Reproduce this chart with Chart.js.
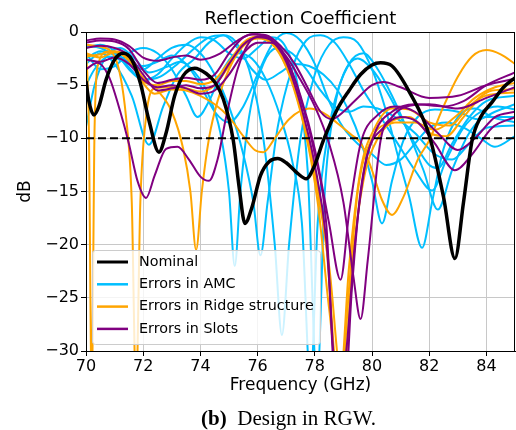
<!DOCTYPE html>
<html><head><meta charset="utf-8">
<script src="https://cdn.jsdelivr.net/npm/chart.js@4/dist/chart.umd.min.js"></script>
<style>
html,body{margin:0;padding:0;background:#fff;}
#wrap{position:relative;width:516px;height:430px;overflow:hidden;}
#caption{position:absolute;left:0;width:577px;top:406px;text-align:center;font-family:"Liberation Serif","Times New Roman",serif;font-size:21px;line-height:24px;color:#000;white-space:nowrap;}
</style></head>
<body>
<div id="wrap"><canvas id="c" width="516" height="430"></canvas><div id="caption"><b>(b)</b>&nbsp; Design in RGW.</div></div>
<script>
// ---- tick labels ----
const xTicks = [70, 72, 74, 76, 78, 80, 82, 84];
const yTicks = [0, -5, -10, -15, -20, -25, -30];
const threshold = -10;

// ---- Nominal ----
const nominalFreq = [70.0,70.1,70.28,70.45,70.7,71.0,71.3,71.6,71.9,72.2,72.55,72.8,73.1,73.4,73.8,74.2,74.5,74.8,75.15,75.35,75.56,75.8,76.1,76.4,76.7,77.0,77.4,77.7,78.0,78.3,78.8,79.2,79.6,80.0,80.3,80.7,81.3,82.0,82.5,82.9,83.2,83.5,83.8,84.2,84.6,85.0];
const nominalDb   = [-4.6,-6.5,-7.8,-7.0,-4.5,-2.6,-2.0,-2.6,-4.8,-8.3,-11.3,-9.5,-6.0,-4.1,-3.4,-3.9,-4.7,-6.3,-10.2,-14.5,-18.0,-16.5,-13.5,-12.2,-11.9,-12.3,-13.3,-13.8,-12.5,-10.2,-7.2,-5.5,-4.0,-3.1,-2.9,-3.2,-5.6,-9.7,-15.5,-21.3,-16.0,-10.2,-8.0,-6.6,-5.2,-4.3];

// ---- Errors in AMC ----
const amc1Freq = [70,70.3,70.7,71.2,71.7,72.2,72.8,73.3,73.8,74.3,74.7,75.0,75.2,75.4,75.7,76.2,76.7,77.2,77.7,78.2,78.7,79.2,79.7,80.2,80.8,81.5,82.2,82.8,83.4,84,85];
const amc1Db   = [-8.9,-5,-2.3,-1.5,-2.5,-3.8,-3.3,-2.8,-3.8,-6,-9.5,-15,-22,-15,-8,-3,-1.5,-2,-3.5,-5.5,-7,-7.5,-7,-7.2,-8,-9.5,-11.5,-12,-10.5,-9,-8.8];
const amc2Freq = [70,70.5,71,71.6,72.2,72.7,73.2,73.8,74.3,74.8,75.2,75.7,76.2,76.6,76.85,77.1,77.5,78,78.5,79,79.5,80,80.5,80.9,81.3,81.75,82.1,82.5,83,83.6,84.2,85];
const amc2Db   = [-3,-2,-3,-6,-10.6,-7,-4,-2.5,-1,-0.3,-0.8,-3.5,-10,-20,-28.5,-20,-10,-4,-1.2,-0.5,-1,-3.5,-7.5,-11.6,-15.5,-20.3,-16,-11,-8,-7.2,-8,-8.5];
const amc3Freq = [70,70.5,71,71.5,72,72.5,73,73.5,73.9,74.3,74.8,75.3,75.8,76.3,76.8,77.2,77.55,77.85,78.1,78.5,79,79.5,80,80.5,81,81.5,82,82.3,82.8,83.4,84,85];
const amc3Db   = [-2,-3.5,-3.2,-2,-1.5,-2,-3.5,-6,-8,-6.5,-3.5,-2,-2.5,-4.5,-8,-12,-18,-33,-18,-9,-4,-2.5,-3.5,-5.5,-8,-10.5,-12.5,-12.8,-10.5,-8,-6.5,-6];
const amc4Freq = [70,70.5,71,71.5,72,72.5,73,73.5,74,74.5,75,75.5,76,76.5,77,77.4,77.75,78.08,78.35,78.7,79.2,79.7,80.2,80.7,81.2,81.8,82.3,82.8,83.4,84,85];
const amc4Db   = [-1.5,-1.2,-1.8,-3.5,-4.5,-4,-2.5,-1.2,-0.5,-0.8,-2,-2.5,-1.5,-0.5,-1.5,-5,-13,-33,-15,-7,-3,-2,-3.5,-6,-9,-13,-16.7,-13,-9.5,-8,-8];
const amc5Freq = [70,70.3,70.8,71.3,72,72.6,73.2,73.8,74.3,74.8,75.3,75.8,76.3,76.8,77.3,77.8,78.3,78.8,79.2,79.6,80,80.35,80.7,81.1,81.6,82.2,83,83.7,84.3,85];
const amc5Db   = [-5,-3.5,-2.3,-2.8,-4.5,-4.2,-3,-1.5,-0.5,-0.3,-1.5,-3.5,-4.5,-3.8,-3,-3.2,-4,-5.5,-7.5,-10.2,-14,-18,-14,-10.2,-8,-7.3,-7.5,-8.2,-7.5,-6.8];
const amc6Freq = [70,70.5,71,71.5,72,72.5,73,73.5,74,74.5,75,75.5,75.85,76.1,76.35,76.7,77.2,77.7,78.2,78.7,79.2,79.7,80.3,80.9,81.5,82.1,82.6,83.2,83.8,84.4,85];
const amc6Db   = [-2.5,-1.8,-2,-2.8,-3.5,-2.5,-1.5,-1.2,-2,-4,-7,-11.5,-16,-21,-16,-9,-3.5,-0.8,-0.3,-1,-3,-5.5,-8,-10.5,-13,-14.9,-12,-9,-7.5,-7,-7.3];
const amc7Freq = [70,70.5,71,71.5,72,72.5,73,73.5,74,74.5,75,75.5,76,76.5,77,77.5,78,78.5,79,79.5,80,80.5,81,81.5,82,82.6,83.2,83.8,84.3,85];
const amc7Db   = [-1.3,-1.5,-2.2,-3,-3.2,-2.8,-2.2,-3,-5,-7.5,-8.5,-7,-4,-1.2,-0.1,-0.8,-3,-6.5,-9,-10.5,-11.5,-12.5,-12,-10.5,-9,-8.5,-9,-10,-10.8,-9.8];

// ---- Errors in Ridge structure ----
const ridge1Freq = [70,70.1,70.2,70.3,70.45,70.8,71.2,71.6,72,72.5,73,73.5,74,74.5,75,75.5,76,76.5,77,77.5,78,78.4,78.85,79.2,79.6,80.1,80.7,81.3,82,82.7,83.4,84.2,85];
const ridge1Db   = [-1.5,-9,-34,-9,-2.8,-1.8,-2,-3,-4.6,-5,-4.6,-4.6,-4.9,-4.5,-2.8,-1,-0.4,-1,-3.2,-7.2,-13,-20,-34,-22,-13,-9,-7.2,-7.3,-8.5,-8.8,-7,-5.5,-5.4];
const ridge2Freq = [70,70.5,71,71.4,71.6,71.75,71.9,72.1,72.4,73,73.5,74,74.5,75,75.5,76.1,76.6,77.1,77.6,78.1,78.5,78.9,79.2,79.5,80,80.6,81.3,82,82.6,83.2,83.8,84.4,85];
const ridge2Db   = [-1.2,-1.4,-2.3,-8,-16,-34,-16,-8,-5.3,-5.2,-5.3,-5.6,-5,-3.2,-1.3,-0.5,-1.3,-3.8,-8.5,-16,-26,-34,-24,-15,-10,-8.5,-8,-9.5,-9.8,-8,-6.2,-5.8,-5.7];
const ridge3Freq = [70,70.5,71,71.5,72,72.5,73,73.4,73.65,73.85,74.05,74.3,74.6,75,75.5,76,76.5,77,77.5,78,78.5,79,79.3,79.7,80.2,80.8,81.5,82.2,82.9,83.6,84.3,85];
const ridge3Db   = [-2,-2.4,-1.9,-2.5,-4.3,-5.5,-7.5,-11,-15,-20.5,-15,-10,-6.5,-3.5,-1.3,-0.6,-1.1,-3.3,-7.5,-13.5,-22,-34,-22,-14,-10,-8.5,-8.5,-9.2,-8,-6.2,-5.2,-4.8];
const ridge4Freq = [70,70.5,71,71.5,72,72.4,73,73.5,74,74.5,75,75.5,75.9,76.2,76.6,77.1,77.8,78.3,78.8,79.3,79.6,80,80.35,80.7,81.1,81.6,82,82.5,83,83.5,84,84.5,85];
const ridge4Db   = [-2.3,-2.1,-1.8,-2.4,-4.8,-5.8,-5.4,-5.5,-6,-6.8,-8,-9.8,-11.1,-11.3,-10,-8.2,-7.2,-7.6,-8.6,-9.7,-10.4,-13,-15.8,-17.2,-15.5,-12,-10.2,-7,-4.2,-2.3,-1.7,-2.1,-3];

// ---- Errors in Slots ----
const slots1Freq = [70,70.4,70.8,71.2,71.5,71.8,72.1,72.4,72.8,73.2,73.6,74,74.3,74.6,74.9,75.3,75.7,76.1,76.5,77,77.5,78,78.4,78.8,79.1,79.4,79.8,80.4,81,81.6,82.2,82.9,83.5,84.2,85];
const slots1Db   = [-3.5,-2.9,-4.2,-7.5,-10.5,-14,-15.6,-13.5,-11,-10.8,-12,-13.6,-14,-12,-8,-3.5,-1,-0.4,-0.8,-2.8,-6.8,-12.5,-19.5,-34,-30,-20,-12,-9,-8,-8.5,-10.5,-13,-11.5,-9,-8];
const slots2Freq = [70,70.5,71,71.5,72,72.5,73,73.5,74,74.5,75,75.5,75.9,76.4,77,77.5,78,78.4,78.75,79.05,79.3,79.6,80.1,80.7,81.5,82.5,83.2,84,85];
const slots2Db   = [-1,-0.8,-0.9,-1.6,-3.6,-4.8,-4.5,-4.3,-4.5,-4,-2,-0.5,-0.2,-0.6,-2.5,-6.2,-11.5,-18,-34,-34,-24,-15,-9.5,-7.5,-6.8,-7,-6.5,-5,-3.8];
const slots3Freq = [70,70.5,71,71.5,72,72.5,73,73.5,74,74.5,75,75.5,76,76.5,77,77.5,78,78.5,78.9,79.2,79.6,80.2,80.8,81.5,82.3,83,83.6,84.3,85];
const slots3Db   = [-1.5,-1.3,-1.5,-2.2,-4,-5.5,-5.3,-5,-5.3,-5,-3,-1.2,-0.5,-0.8,-2.5,-6,-11,-18,-23.3,-17,-10.5,-7.8,-7,-7.5,-9.5,-11.1,-10,-8,-7.5];
const slots4Freq = [70,70.5,71,71.5,72,72.5,73,73.5,74,74.5,75,75.5,76,76.5,77,77.5,78,78.5,79,79.35,79.6,79.85,80.3,80.7,81.2,82,83,84,85];
const slots4Db   = [-2.6,-2.8,-2.4,-3,-4.5,-5.2,-5,-5.3,-5.8,-5.5,-4,-2,-1,-1,-2.3,-4.5,-7,-10.5,-16,-23,-27,-21.5,-10.2,-8,-7,-6.8,-7.2,-6.2,-5.2];
const slots5Freq = [70,70.5,71,71.5,72,72.5,73,73.5,74,74.7,75.3,75.8,76.3,76.8,77.3,77.8,78.2,78.6,79,79.5,80,80.4,81,82,83,84,85];
const slots5Db   = [-0.8,-0.6,-0.7,-1.3,-2.4,-2.7,-2.4,-2.2,-2.6,-2,-0.8,-0.2,-0.3,-1.3,-3,-5.5,-7.5,-8.2,-7.5,-6.2,-5,-4.7,-5.2,-6.2,-6,-5,-4.4];

const BLACK = '#000000', AMC = '#00bfff', RIDGE = '#ffa500', SLOTS = '#800080';
const FONT = "'DejaVu Sans', sans-serif";

function pts(f, d) { return f.map((x, i) => ({ x: x, y: d[i] })); }
function line(label, f, d, color, w) {
  return { label: label, data: pts(f, d), borderColor: color, backgroundColor: color, borderWidth: w, pointRadius: 0, fill: false, cubicInterpolationMode: 'monotone' };
}

const datasets = [
  line('Nominal', nominalFreq, nominalDb, BLACK, 3.5),
  { label: '-10 dB', data: [{ x: 70, y: threshold }, { x: 85, y: threshold }], borderColor: BLACK, borderWidth: 2, borderDash: [8, 4], pointRadius: 0, fill: false },
  line('Errors in Slots', slots1Freq, slots1Db, SLOTS, 2),
  line('Errors in Slots', slots2Freq, slots2Db, SLOTS, 2),
  line('Errors in Slots', slots3Freq, slots3Db, SLOTS, 2),
  line('Errors in Slots', slots4Freq, slots4Db, SLOTS, 2),
  line('Errors in Slots', slots5Freq, slots5Db, SLOTS, 2),
  line('Errors in Ridge structure', ridge1Freq, ridge1Db, RIDGE, 2),
  line('Errors in Ridge structure', ridge2Freq, ridge2Db, RIDGE, 2),
  line('Errors in Ridge structure', ridge3Freq, ridge3Db, RIDGE, 2),
  line('Errors in Ridge structure', ridge4Freq, ridge4Db, RIDGE, 2),
  line('Errors in AMC', amc1Freq, amc1Db, AMC, 2),
  line('Errors in AMC', amc2Freq, amc2Db, AMC, 2),
  line('Errors in AMC', amc3Freq, amc3Db, AMC, 2),
  line('Errors in AMC', amc4Freq, amc4Db, AMC, 2),
  line('Errors in AMC', amc5Freq, amc5Db, AMC, 2),
  line('Errors in AMC', amc6Freq, amc6Db, AMC, 2),
  line('Errors in AMC', amc7Freq, amc7Db, AMC, 2)
];

const legendItems = [
  { text: 'Nominal', color: BLACK, w: 3 },
  { text: 'Errors in AMC', color: AMC, w: 2.5 },
  { text: 'Errors in Ridge structure', color: RIDGE, w: 2.5 },
  { text: 'Errors in Slots', color: SLOTS, w: 2.5 }
];

const decor = {
  id: 'decor',
  afterDraw(chart) {
    const ctx = chart.ctx, ca = chart.chartArea;
    ctx.save();
    // frame
    ctx.strokeStyle = '#000'; ctx.lineWidth = 1;
    ctx.strokeRect(Math.round(ca.left) + 0.5, Math.round(ca.top) + 0.5, Math.round(ca.right - ca.left) - 1, Math.round(ca.bottom - ca.top));
    // title centred over the plot area
    ctx.fillStyle = '#000'; ctx.font = "18px " + FONT; ctx.textAlign = 'center'; ctx.textBaseline = 'alphabetic';
    ctx.fillText('Reflection Coefficient', (ca.left + ca.right) / 2, 24);
    // legend
    const bl = Math.round(ca.left) + 6, bb = Math.round(ca.bottom) - 7, bw = 228, bh = 94, bt = bb - bh;
    ctx.beginPath();
    ctx.roundRect(bl + 0.5, bt + 0.5, bw, bh, 3);
    ctx.fillStyle = 'rgba(255,255,255,0.8)'; ctx.fill();
    ctx.strokeStyle = '#cccccc'; ctx.lineWidth = 1; ctx.stroke();
    ctx.font = "14.3px " + FONT; ctx.textAlign = 'left'; ctx.textBaseline = 'middle';
    legendItems.forEach((it, i) => {
      const y = bt + 12 + i * 22.3;
      ctx.beginPath(); ctx.moveTo(bl + 5, y); ctx.lineTo(bl + 36, y);
      ctx.strokeStyle = it.color; ctx.lineWidth = it.w; ctx.stroke();
      ctx.fillStyle = '#000'; ctx.fillText(it.text, bl + 47, y);
    });
    ctx.restore();
  }
};

new Chart(document.getElementById('c'), {
  type: 'line',
  data: { datasets: datasets },
  plugins: [decor],
  options: {
    responsive: false, animation: false, events: [],
    layout: { padding: { left: 0, right: 1, top: 32, bottom: 0 } },
    plugins: { legend: { display: false }, title: { display: false }, tooltip: { enabled: false } },
    scales: {
      x: {
        type: 'linear', min: 70, max: 85,
        afterBuildTicks: s => { s.ticks = xTicks.map(v => ({ value: v })); },
        afterFit: s => { s.height = 79; },
        grid: { color: '#c8c8c8', lineWidth: 1, tickColor: '#000', tickLength: 5 },
        border: { color: '#000', width: 1 },
        ticks: { color: '#000', font: { family: FONT, size: 16 }, padding: 1, maxRotation: 0, autoSkip: false },
        title: { display: true, text: 'Frequency (GHz)', color: '#000', font: { family: FONT, size: 17 }, padding: { top: 0, bottom: 34 } }
      },
      y: {
        type: 'linear', min: -30, max: 0,
        afterBuildTicks: s => { s.ticks = yTicks.map(v => ({ value: v })); },
        afterFit: s => { s.width = 86; },
        grid: { color: '#c8c8c8', lineWidth: 1, tickColor: '#000', tickLength: 5 },
        border: { color: '#000', width: 1 },
        ticks: { color: '#000', font: { family: FONT, size: 16 }, padding: 2, callback: v => String(v).replace('-', '\u2212') },
        title: { display: true, text: 'dB', color: '#000', font: { family: FONT, size: 17 }, padding: { top: 15, bottom: 0 } }
      }
    }
  }
});
</script>
</body></html>
